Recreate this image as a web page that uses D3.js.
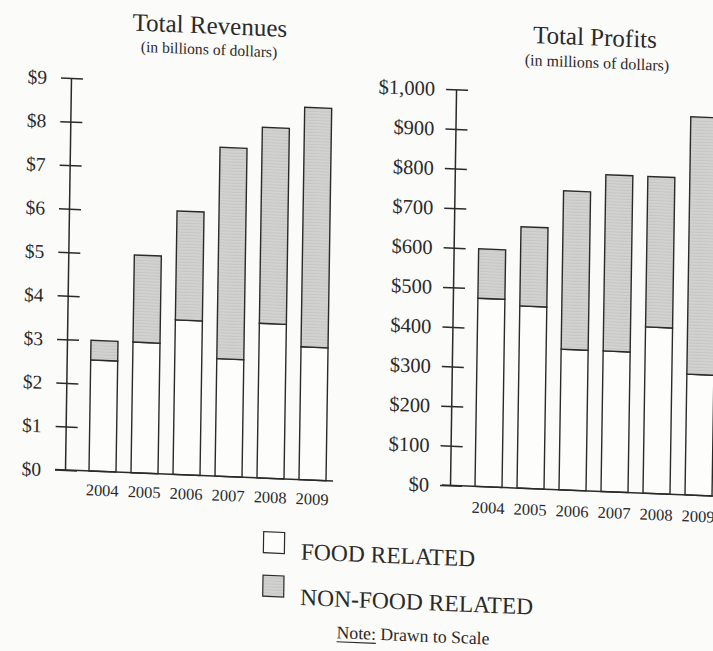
<!DOCTYPE html>
<html>
<head>
<meta charset="utf-8">
<script src="https://cdn.jsdelivr.net/npm/d3@7"></script>
<style>
  html, body { margin: 0; padding: 0; background: #fbfbfa; }
  svg { display: block; }
  text { font-family: "Liberation Serif", "Times New Roman", serif; fill: #2a2a2a; }
</style>
</head>
<body>
<svg id="chart" width="713" height="651"></svg>
<script>
// ---- data ----
const years = ["2004", "2005", "2006", "2007", "2008", "2009"];

// Total revenues, billions of dollars
const revenueFood    = [2.55, 3.0, 3.55, 2.7, 3.55, 3.05];
const revenueNonFood = [0.45, 2.0, 2.5, 4.85, 4.5, 5.5];

// Total profits, millions of dollars
const profitFood    = [475, 460, 355, 355, 420, 305];
const profitNonFood = [125, 200, 400, 445, 380, 650];

const revenueTicks = [0, 1, 2, 3, 4, 5, 6, 7, 8, 9];
const revenueTickLabels = ["$0", "$1", "$2", "$3", "$4", "$5", "$6", "$7", "$8", "$9"];
const profitTicks = [0, 100, 200, 300, 400, 500, 600, 700, 800, 900, 1000];
const profitTickLabels = ["$0", "$100", "$200", "$300", "$400", "$500", "$600", "$700", "$800", "$900", "$1,000"];

const seriesKeys = ["food", "nonFood"];
const seriesNames = ["FOOD RELATED", "NON-FOOD RELATED"];

// ---- styling ----
const INK = "#2a2a2a";
const FILLS = { food: "#fdfdfc", nonFood: "#d2d2d0" };

const svg = d3.select("#chart");

// the printed page sits slightly askew: a gentle shear/rotation of the whole drawing
const shearY = 0.041, shearX = -0.0153;
const root = svg.append("g")
  .attr("transform", `matrix(1,${shearY},${shearX},1,${-shearX * 470},${-shearY * 65})`);

// fine horizontal grain for the shaded series
const defs = svg.append("defs");
const pat = defs.append("pattern")
  .attr("id", "grain").attr("patternUnits", "userSpaceOnUse")
  .attr("width", 4).attr("height", 3);
pat.append("rect").attr("width", 4).attr("height", 3).attr("fill", FILLS.nonFood);
pat.append("rect").attr("y", 2).attr("width", 4).attr("height", 1).attr("fill", "#c6c6c4");

function drawPanel(cfg) {
  const g = root.append("g");
  const rows = years.map((yr, i) => ({ year: yr, food: cfg.food[i], nonFood: cfg.nonFood[i] }));
  const stacked = d3.stack().keys(seriesKeys)(rows);

  const y = d3.scaleLinear().domain(cfg.domain).range([cfg.baseY, cfg.topY]);
  const x = d3.scaleBand().domain(years).range(cfg.barRange).paddingInner(0.357).paddingOuter(0);

  // titles
  g.append("text").attr("x", cfg.titleX).attr("y", cfg.titleY)
    .attr("text-anchor", "middle").style("font-size", "25px").text(cfg.title);
  g.append("text").attr("x", cfg.subX).attr("y", cfg.subY)
    .attr("text-anchor", "middle").style("font-size", cfg.subSize + "px").text(cfg.subtitle);

  // bars
  g.append("g").selectAll("g").data(stacked).join("g")
    .attr("fill", d => d.key === "nonFood" ? "url(#grain)" : FILLS.food)
    .selectAll("rect").data(d => d).join("rect")
      .attr("x", d => x(d.data.year))
      .attr("width", x.bandwidth())
      .attr("y", d => y(d[1]))
      .attr("height", d => y(d[0]) - y(d[1]))
      .attr("stroke", INK).attr("stroke-width", 1.4);

  // baseline
  g.append("line")
    .attr("x1", cfg.baseX[0]).attr("x2", cfg.baseX[1])
    .attr("y1", y(0)).attr("y2", y(0))
    .attr("stroke", INK).attr("stroke-width", 1.5);

  // value axis with ticks crossing the spine
  const axis = d3.axisLeft(y)
    .tickValues(cfg.ticks)
    .tickFormat((d, i) => cfg.tickLabels[i])
    .tickSizeOuter(0);
  const ag = g.append("g").attr("transform", `translate(${cfg.axisX},0)`).call(axis);
  ag.select(".domain").attr("stroke", INK).attr("stroke-width", 1.5);
  ag.selectAll(".tick line").attr("x1", -10).attr("x2", 12)
    .attr("stroke", INK).attr("stroke-width", 1.5);
  ag.selectAll(".tick text").attr("x", -cfg.labelGap).attr("dy", "0.33em")
    .attr("fill", INK)
    .style("font-family", "\"Liberation Serif\", serif")
    .style("font-size", cfg.labelSize + "px");

  // year labels
  g.append("g").selectAll("text").data(years).join("text")
    .attr("x", d => x(d) + x.bandwidth() / 2)
    .attr("y", cfg.baseY + cfg.yearGap)
    .attr("text-anchor", "middle")
    .style("font-size", "16.5px")
    .text(d => d);
}

drawPanel({
  title: "Total Revenues", subtitle: "(in billions of dollars)",
  titleX: 203, titleY: 28, subX: 202.5, subY: 49, subSize: 15.6,
  food: revenueFood, nonFood: revenueNonFood,
  domain: [0, 9], baseY: 470, topY: 78,
  ticks: revenueTicks, tickLabels: revenueTickLabels,
  axisX: 65, labelGap: 24, labelSize: 19.5,
  barRange: [89, 326], baseX: [55, 333], yearGap: 24.5
});

drawPanel({
  title: "Total Profits", subtitle: "(in millions of dollars)",
  titleX: 588, titleY: 24, subX: 590.5, subY: 46.5, subSize: 16,
  food: profitFood, nonFood: profitNonFood,
  domain: [0, 1000], baseY: 469.5, topY: 73.5,
  ticks: profitTicks, tickLabels: profitTickLabels,
  axisX: 450, labelGap: 21, labelSize: 20.5,
  barRange: [475, 712], baseX: [442, 740], yearGap: 26.5
});

// legend
const legend = root.append("g");
const legendRows = [
  { key: "food", name: seriesNames[0], boxY: 523.5, textY: 549.7 },
  { key: "nonFood", name: seriesNames[1], boxY: 567, textY: 595.3 }
];
legend.selectAll("rect").data(legendRows).join("rect")
  .attr("x", 264.5).attr("y", d => d.boxY)
  .attr("width", 21).attr("height", 21)
  .attr("fill", d => d.key === "nonFood" ? "url(#grain)" : FILLS.food)
  .attr("stroke", INK).attr("stroke-width", 1.2);
legend.selectAll("text").data(legendRows).join("text")
  .attr("x", 302).attr("y", d => d.textY)
  .style("font-size", "23.5px")
  .text(d => d.name);

// footnote
const note = root.append("text").attr("x", 339).attr("y", 627).style("font-size", "17.7px");
const noteLead = note.append("tspan").text("Note:");
note.append("tspan").text(" Drawn to Scale");
const leadLen = noteLead.node().getComputedTextLength();
root.append("line")
  .attr("x1", 339).attr("x2", 339 + leadLen)
  .attr("y1", 630.5).attr("y2", 630.5)
  .attr("stroke", INK).attr("stroke-width", 1.1);
</script>
</body>
</html>
